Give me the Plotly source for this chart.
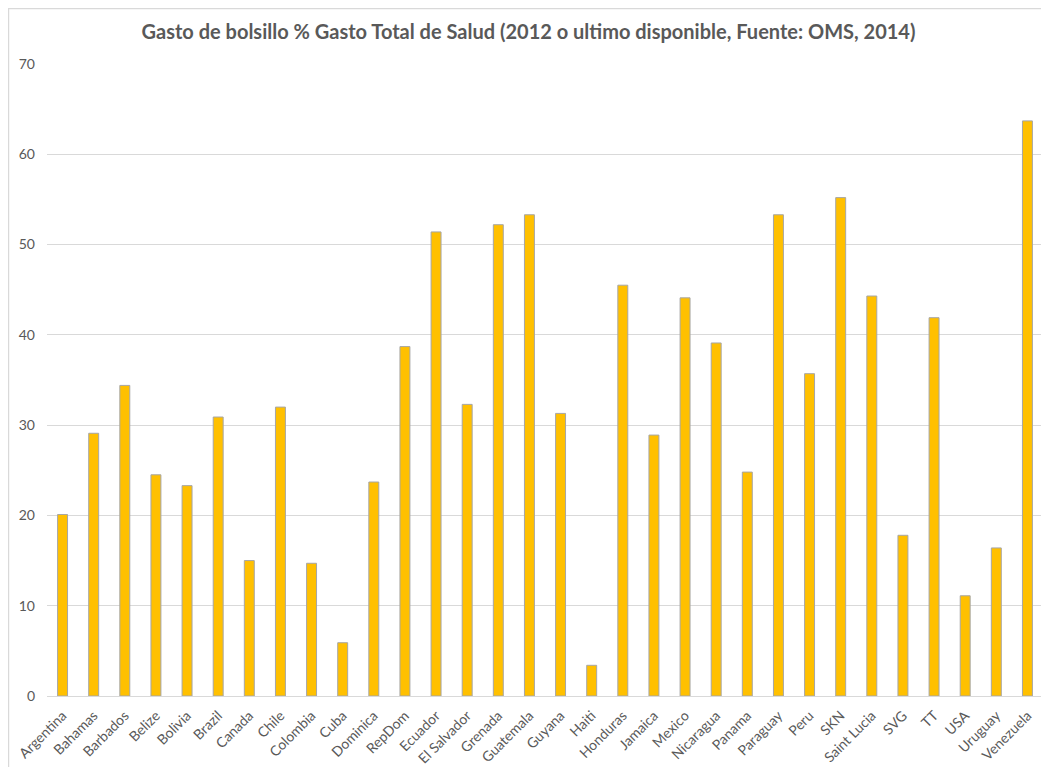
import plotly.graph_objects as go

countries = ['Argentina', 'Bahamas', 'Barbados', 'Belize', 'Bolivia', 'Brazil', 'Canada', 'Chile',
             'Colombia', 'Cuba', 'Dominica', 'RepDom', 'Ecuador', 'El Salvador', 'Grenada', 'Guatemala',
             'Guyana', 'Haiti', 'Honduras', 'Jamaica', 'Mexico', 'Nicaragua', 'Panama', 'Paraguay',
             'Peru', 'SKN', 'Saint Lucia', 'SVG', 'TT', 'USA', 'Uruguay', 'Venezuela']
gasto_bolsillo = [20.1, 29.1, 34.4, 24.5, 23.3, 30.9, 15.0, 32.0,
                  14.7, 5.9, 23.7, 38.7, 51.4, 32.3, 52.2, 53.3,
                  31.3, 3.4, 45.5, 28.9, 44.1, 39.1, 24.8, 53.3,
                  35.7, 55.2, 44.3, 17.8, 41.9, 11.1, 16.4, 63.7]
y_ticks = [0, 10, 20, 30, 40, 50, 60, 70]

gray = '#595959'
fig = go.Figure(go.Bar(x=countries, y=gasto_bolsillo,
                       marker=dict(color='#FFC000', line=dict(color='#A6A6A6', width=1)),
                       showlegend=False))

# page body has an 8px margin, so the figure is sized a bit smaller than the window
fig.update_layout(
    width=1041, height=759,
    paper_bgcolor='white', plot_bgcolor='white',
    margin=dict(l=39, r=6, t=56, b=71, autoexpand=False),
    bargap=0.68,
    font=dict(family='Lato, sans-serif', color=gray, size=14),
    title=dict(text='<b>Gasto de bolsillo % Gasto Total de Salud (2012 o ultimo disponible, Fuente: OMS, 2014)</b>',
               x=0.5, xanchor='center', y=0.968, yanchor='middle',
               font=dict(size=20, color=gray, family='Lato, sans-serif')),
    xaxis=dict(tickangle=-45, showgrid=False, ticks='', showline=True, linecolor='#D9D9D9',
               automargin=False, ticklabelstandoff=5, tickfont=dict(size=14, color=gray)),
    yaxis=dict(range=[0, 70], tickvals=y_ticks, gridcolor='#D9D9D9', zeroline=False,
               automargin=False, showline=False, ticks='', ticklabelstandoff=11,
               tickfont=dict(size=14, color=gray)),
    # light chart frame, only its left and top edges fall inside the page
    shapes=[dict(type='rect', xref='paper', yref='paper', x0=-0.0387, x1=1.02, y0=-0.2, y1=1.0878,
                 line=dict(color='#D9D9D9', width=1.5), fillcolor='rgba(0,0,0,0)', layer='above')],
)

fig.write_html('out.html')
